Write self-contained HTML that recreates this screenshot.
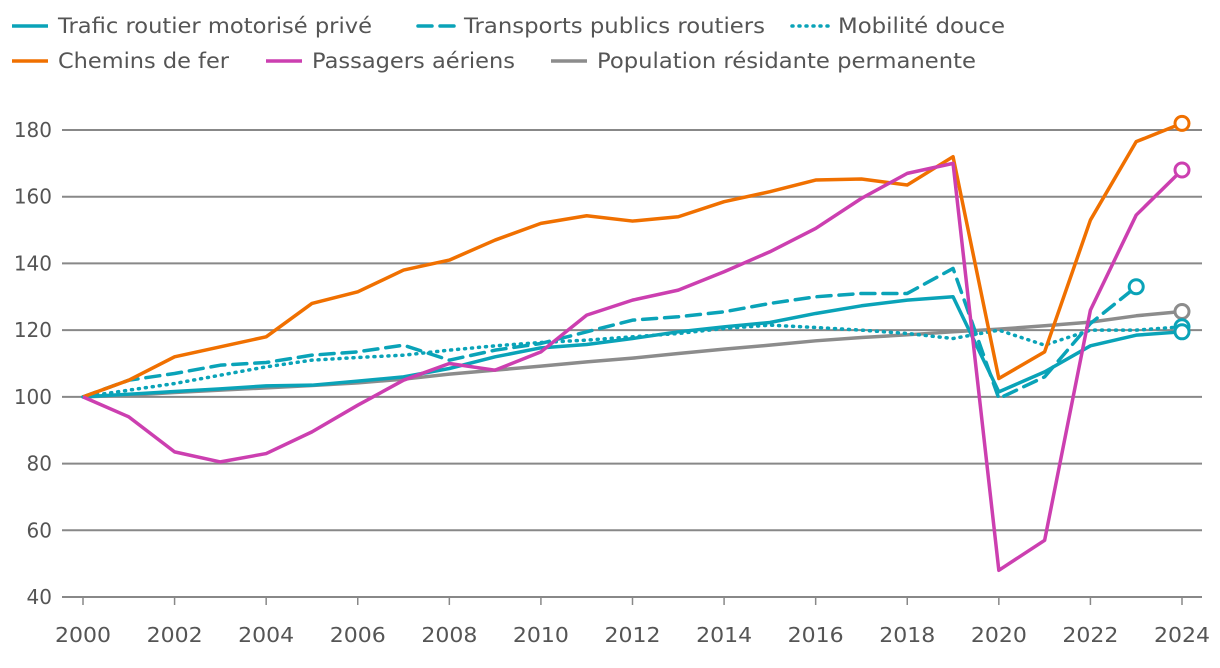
<!DOCTYPE html>
<html><head><meta charset="utf-8"><style>
body{margin:0;background:#fff;font-family:"DejaVu Sans","Liberation Sans",sans-serif}
svg text{font-family:"DejaVu Sans","Liberation Sans",sans-serif;fill:#555}
</style></head><body>
<svg id="c" width="1220" height="664"></svg>
<script>
const years=[2000,2001,2002,2003,2004,2005,2006,2007,2008,2009,2010,2011,2012,2013,2014,2015,2016,2017,2018,2019,2020,2021,2022,2023,2024];
const trafic=[100,100.8,101.6,102.4,103.3,103.5,104.7,106,108.5,112,114.7,115.7,117.5,119.5,121,122.3,125,127.3,129,130,101.5,107.5,115.3,118.5,119.5];
const transports=[100,105,107,109.5,110.3,112.5,113.5,115.5,111,114,116,119.5,123,124,125.5,128,130,131,131,138.5,99.5,106,122,133];
const mobilite=[100,102,104,106.5,109,111,111.8,112.5,114,115.3,116.3,117,118,119,120.5,121.5,120.8,120,119,117.5,120,115.5,120,120,121];
const chemins=[100,105,112,115,118,128,131.5,138,141,147,152,154.3,152.7,154,158.5,161.5,165,165.3,163.5,172,105.5,113.5,153,176.5,182];
const aeriens=[100,94,83.5,80.5,83,89.5,97.5,105,110,108,113.5,124.5,129,132,137.5,143.5,150.5,159.5,167,170,48,57,126,154.5,168];
const population=[100,100.5,101.3,102,102.7,103.4,104.2,105.3,106.8,108,109.2,110.5,111.6,113,114.3,115.5,116.8,117.8,118.6,119.5,120.3,121.3,122.4,124.3,125.6];
const yTicks=[40,60,80,100,120,140,160,180];
const xTicks=[2000,2002,2004,2006,2008,2010,2012,2014,2016,2018,2020,2022,2024];
const NS="http://www.w3.org/2000/svg";
const svg=document.getElementById('c');
const X=y=>83+(y-2000)*(1099/24);
const Y=v=>597-(v-40)*(467/140);
function mk(t,a){const e=document.createElementNS(NS,t);for(const k in a)e.setAttribute(k,a[k]);svg.appendChild(e);return e;}
yTicks.forEach(v=>{
  const l=mk('line',{x1:62,x2:1202,y1:Y(v),y2:Y(v),stroke:'#888','stroke-width':2});
  
  
  const t=mk('text',{x:52,y:Y(v)+7,'text-anchor':'end','font-size':20});
  t.textContent=v;
  
  
});
xTicks.forEach(v=>{
  const l=mk('line',{x1:X(v),x2:X(v),y1:597,y2:605,stroke:'#888','stroke-width':1.5});
  
  
  const t=mk('text',{x:X(v),y:642,'text-anchor':'middle','font-size':20,textLength:56,lengthAdjust:'spacingAndGlyphs'});
  t.textContent=v;
  
  
});
const series=[
 [population,'#8c8c8c','', 'population-line'],
 [mobilite,'#0aa3b8','1 6','mobilite-line'],
 [transports,'#0aa3b8','14 8','transports-line'],
 [trafic,'#0aa3b8','','trafic-line'],
 [chemins,'#f07000','','chemins-line'],
 [aeriens,'#cc3fb0','','aeriens-line']];
series.forEach(([d,c,da,n])=>{
  const p=mk('polyline',{points:d.map((v,i)=>X(years[i])+','+Y(v)).join(' '),fill:'none',stroke:c,'stroke-width':3.5,'stroke-dasharray':da,'stroke-linecap':da?'round':'butt','stroke-linejoin':'round'});
  
  
  const i=d.length-1;
  const m=mk('circle',{cx:X(years[i]),cy:Y(d[i]),r:7,fill:'#fff',stroke:c,'stroke-width':3});
  
  
});
const legend=[
 [12,26,'#0aa3b8','','Trafic routier motorisé privé',314],
 [418,26,'#0aa3b8','14 8','Transports publics routiers',301],
 [792,26,'#0aa3b8','1 6','Mobilité douce',167],
 [12,61,'#f07000','','Chemins de fer',171],
 [266,61,'#cc3fb0','','Passagers aériens',203],
 [551,61,'#8c8c8c','','Population résidante permanente',379]];
legend.forEach(([x,y,c,da,txt,w])=>{
  const l=mk('line',{x1:x,x2:x+36,y1:y,y2:y,stroke:c,'stroke-width':3.5,'stroke-dasharray':da,'stroke-linecap':da?'round':'butt'});
  
  
  const t=mk('text',{x:x+46,y:y+7,'font-size':21,textLength:w,lengthAdjust:'spacingAndGlyphs'});
  t.textContent=txt;
  
  
});
</script>
</body></html>
